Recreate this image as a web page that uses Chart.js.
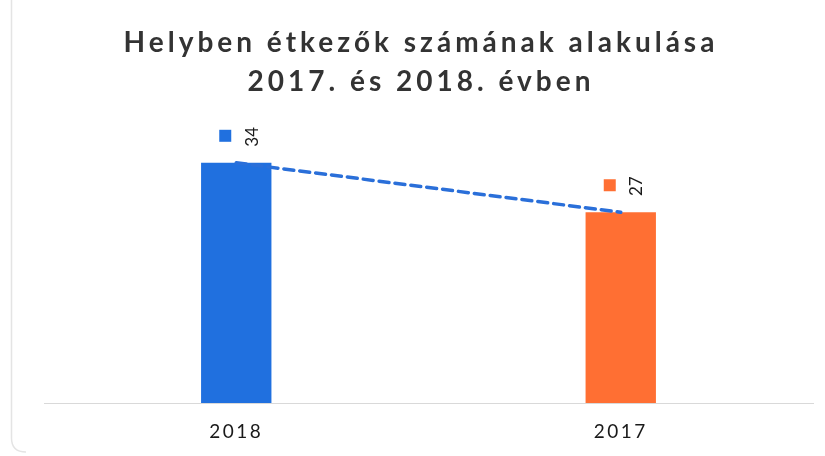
<!DOCTYPE html>
<html><head><meta charset="utf-8">
<script src="https://cdn.jsdelivr.net/npm/chart.js@4"></script>
<style>html,body{margin:0;padding:0;background:#fff;overflow:hidden}</style>
</head><body>
<canvas id="c" width="825" height="456"></canvas>
<script>
const categories = ['2018', '2017'];
const values = [34, 27];
const barColors = ['#2070df', '#ff6f33'];
const lineColor = '#2a6fd9';
const titleLines = ['Helyben étkezők számának alakulása', '2017. és 2018. évben'];
const yMin = 0;
const yMax = 40;

const TITLE_SPACING = '4px';
const TICK_SPACING = '2.5px';

const framePlugin = {
  id: 'frame',
  beforeDraw(chart) {
    const ctx = chart.ctx;
    ctx.save();
    ctx.strokeStyle = '#e4e4e4';
    ctx.lineWidth = 1.5;
    ctx.beginPath();
    ctx.moveTo(11.5, 0);
    ctx.lineTo(11.5, 438);
    ctx.quadraticCurveTo(11.5, 452, 26, 452);
    ctx.stroke();
    ctx.restore();
    ctx.letterSpacing = TITLE_SPACING;
  },
  afterDatasetsDraw(chart) {
    const ctx = chart.ctx;
    const meta = chart.getDatasetMeta(0);
    ctx.save();
    ctx.letterSpacing = '0px';
    meta.data.forEach((bar, i) => {
      const x = bar.x, y = bar.y;
      ctx.fillStyle = barColors[i];
      ctx.fillRect(x - 17, y - 33, 12, 12);
      ctx.save();
      ctx.translate(x + 16, y - 26);
      ctx.rotate(-Math.PI / 2);
      ctx.fillStyle = '#1a1a1a';
      ctx.font = '17px Lato';
      ctx.textAlign = 'center';
      ctx.textBaseline = 'middle';
      ctx.fillText(String(values[i]), 0, 0);
      ctx.restore();
    });
    ctx.restore();
    ctx.letterSpacing = TICK_SPACING;
  },
  afterDraw(chart) {
    chart.ctx.letterSpacing = '0px';
  }
};

function draw() {
  new Chart(document.getElementById('c'), {
    data: {
      labels: categories,
      datasets: [
        {
          type: 'line',
          data: values,
          borderColor: lineColor,
          borderWidth: 3.5,
          borderDash: [10, 6],
          borderCapStyle: 'round',
          pointRadius: 0,
          fill: false,
          order: 0
        },
        {
          type: 'bar',
          data: values,
          backgroundColor: barColors,
          borderWidth: 0,
          categoryPercentage: 1,
          barPercentage: 0.183,
          order: 1
        }
      ]
    },
    options: {
      responsive: false,
      animation: false,
      devicePixelRatio: 1,
      layout: { padding: { left: 29, right: 12, top: 0, bottom: 0 } },
      plugins: {
        legend: { display: false },
        tooltip: { enabled: false },
        title: {
          display: true,
          text: titleLines,
          color: '#333333',
          font: { family: 'Lato', size: 28, weight: 'bold', lineHeight: 1.4 },
          padding: { top: 23, bottom: 19 }
        }
      },
      scales: {
        x: {
          offset: true,
          grid: { display: false, drawTicks: false },
          border: { display: true, color: '#d9d9d9', width: 1 },
          ticks: {
            color: '#1a1a1a',
            font: { family: 'Lato', size: 19 },
            padding: 17,
            z: 1
          },
          afterFit: s => { s.height = 53; }
        },
        y: {
          min: yMin,
          max: yMax,
          display: true,
          grid: { display: false, drawTicks: false },
          border: { display: false },
          ticks: { display: false },
          afterFit: s => { s.width = 15; }
        }
      }
    },
    plugins: [framePlugin]
  });
}

Promise.all([
  document.fonts.load('bold 28px Lato'),
  document.fonts.load('19px Lato')
]).then(draw, draw);
</script>
</body></html>
